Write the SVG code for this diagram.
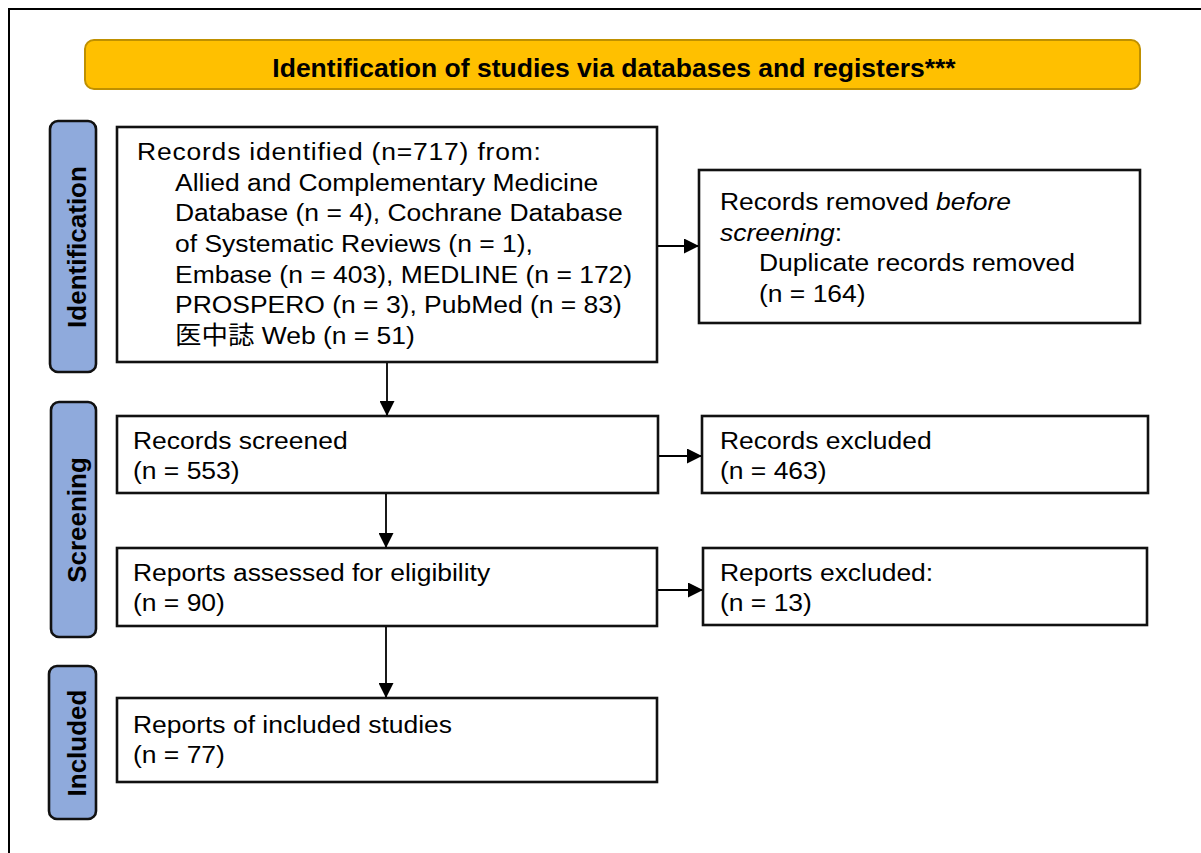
<svg xmlns="http://www.w3.org/2000/svg" width="1201" height="853" viewBox="0 0 1201 853">
<style>
.frame{fill:none;stroke:#000;stroke-width:2}
.hdr{fill:#FFC000;stroke:#BF9000;stroke-width:2}
.tab{fill:#8FAADC;stroke:#111;stroke-width:2.6}
.box{fill:#fff;stroke:#111;stroke-width:2.6}
.t{font-family:"Liberation Sans",Arial,"Noto Sans CJK JP",sans-serif;font-size:24.5px;fill:#000}
.b{font-family:"Liberation Sans",Arial,sans-serif;font-size:26px;font-weight:bold;fill:#000}
.con{stroke:#000;stroke-width:1.8;fill:none}
</style>
<defs>
<marker id="ah" markerWidth="15" markerHeight="15" refX="14" refY="7.5" orient="auto" markerUnits="userSpaceOnUse">
<path d="M0,0 L15,7.5 L0,15 Z" fill="#000"/>
</marker>
</defs>
<rect class="frame" x="9" y="9" width="1210" height="900"/>
<g id="header">
<rect class="hdr" x="85" y="40" width="1055" height="49" rx="9"/>
<text class="b" x="614" y="77" text-anchor="middle" style="font-size:26.5px">Identification of studies via databases and registers***</text>
</g>
<g id="tab-identification">
<rect class="tab" x="50" y="121" width="46" height="251" rx="8"/>
<text class="b" transform="translate(86 247) rotate(-90)" text-anchor="middle">Identification</text>
</g>
<g id="tab-screening">
<rect class="tab" x="51" y="402" width="45" height="235" rx="8"/>
<text class="b" transform="translate(85.5 520) rotate(-90)" text-anchor="middle">Screening</text>
</g>
<g id="tab-included">
<rect class="tab" x="49" y="666" width="47" height="153" rx="8"/>
<text class="b" transform="translate(86 743) rotate(-90)" text-anchor="middle">Included</text>
</g>
<g id="records-identified">
<rect class="box" x="117" y="127" width="540" height="235"/>
<text class="t" transform="translate(137 160) scale(1.08 1)"><tspan x="0" y="0" textLength="374" lengthAdjust="spacing">Records identified (n=717) from:</tspan><tspan x="35.2" dy="30.7">Allied and Complementary Medicine</tspan><tspan x="35.2" dy="30.7">Database (n = 4), Cochrane Database</tspan><tspan x="35.2" dy="30.7">of Systematic Reviews (n = 1),</tspan><tspan x="35.2" dy="30.7">Embase (n = 403), MEDLINE (n = 172)</tspan><tspan x="35.2" dy="30.7">PROSPERO (n = 3), PubMed (n = 83)</tspan><tspan x="35.2" dy="30.7">医中誌 Web (n = 51)</tspan></text>
</g>
<g id="records-removed">
<rect class="box" x="699" y="170" width="441" height="153"/>
<text class="t" transform="translate(720 210) scale(1.08 1)"><tspan x="0" y="0">Records removed <tspan font-style="italic">before</tspan></tspan><tspan x="0" dy="30.7"><tspan font-style="italic">screening</tspan>:</tspan><tspan x="36.1" dy="30.7">Duplicate records removed</tspan><tspan x="36.1" dy="30.7">(n = 164)</tspan></text>
</g>
<g id="records-screened">
<rect class="box" x="117" y="416" width="541" height="77"/>
<text class="t" transform="translate(133 449) scale(1.08 1)"><tspan x="0" y="0">Records screened</tspan><tspan x="0" dy="30.2">(n = 553)</tspan></text>
</g>
<g id="records-excluded">
<rect class="box" x="702" y="416" width="446" height="77"/>
<text class="t" transform="translate(720 449) scale(1.08 1)"><tspan x="0" y="0">Records excluded</tspan><tspan x="0" dy="30.2">(n = 463)</tspan></text>
</g>
<g id="reports-assessed">
<rect class="box" x="117" y="548" width="540" height="78"/>
<text class="t" transform="translate(133 581) scale(1.08 1)"><tspan x="0" y="0">Reports assessed for eligibility</tspan><tspan x="0" dy="30.2">(n = 90)</tspan></text>
</g>
<g id="reports-excluded">
<rect class="box" x="703" y="548" width="444" height="77"/>
<text class="t" transform="translate(720 581) scale(1.08 1)"><tspan x="0" y="0">Reports excluded:</tspan><tspan x="0" dy="30.2">(n = 13)</tspan></text>
</g>
<g id="reports-included">
<rect class="box" x="117" y="698" width="540" height="84"/>
<text class="t" transform="translate(133 733) scale(1.08 1)"><tspan x="0" y="0">Reports of included studies</tspan><tspan x="0" dy="30.2">(n = 77)</tspan></text>
</g>
<g id="connectors">
<line class="con" x1="387" y1="363" x2="387" y2="415" marker-end="url(#ah)"/>
<line class="con" x1="658" y1="246" x2="698" y2="246" marker-end="url(#ah)"/>
<line class="con" x1="659" y1="456" x2="701" y2="456" marker-end="url(#ah)"/>
<line class="con" x1="386" y1="494" x2="386" y2="547" marker-end="url(#ah)"/>
<line class="con" x1="658" y1="590" x2="702" y2="590" marker-end="url(#ah)"/>
<line class="con" x1="386" y1="627" x2="386" y2="697" marker-end="url(#ah)"/>
</g>
</svg>
